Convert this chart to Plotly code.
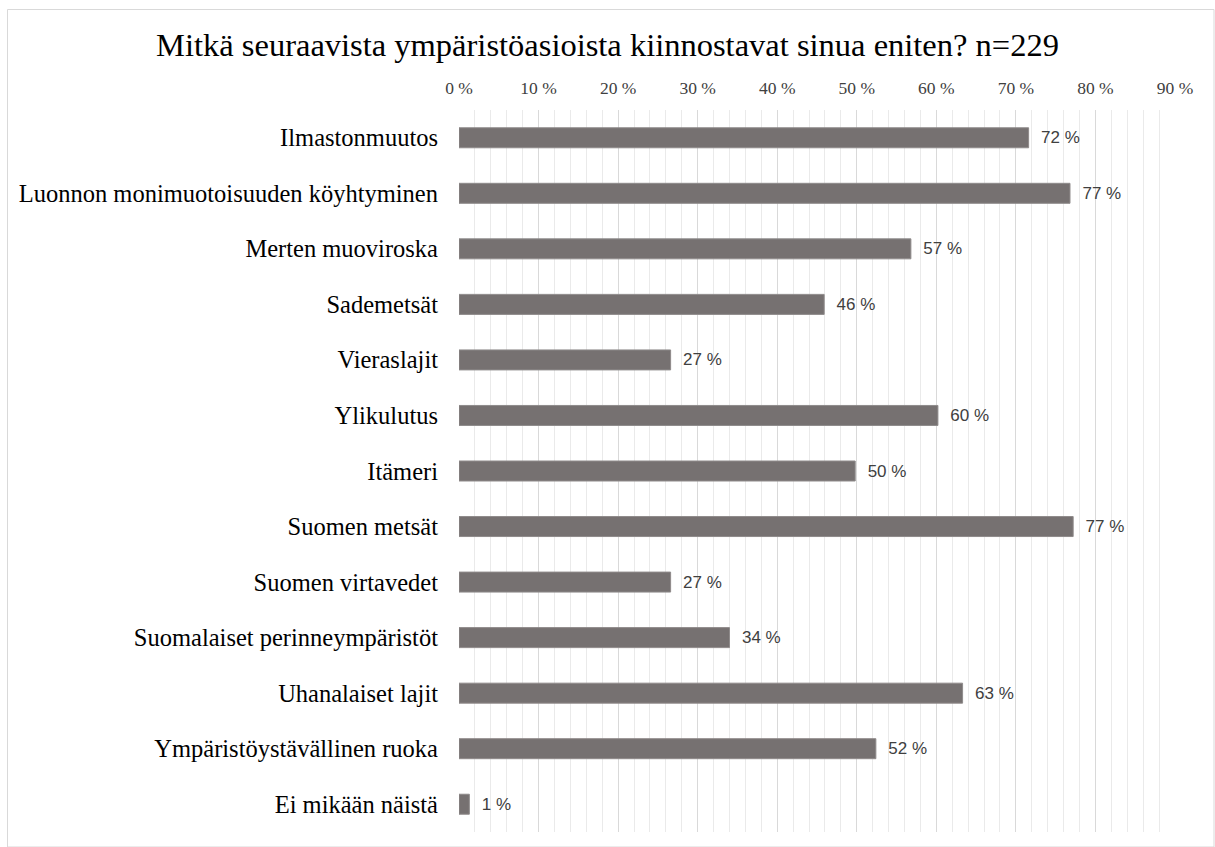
import plotly.graph_objects as go

categories = [
    "Ilmastonmuutos",
    "Luonnon monimuotoisuuden köyhtyminen",
    "Merten muoviroska",
    "Sademetsät",
    "Vieraslajit",
    "Ylikulutus",
    "Itämeri",
    "Suomen metsät",
    "Suomen virtavedet",
    "Suomalaiset perinneympäristöt",
    "Uhanalaiset lajit",
    "Ympäristöystävällinen ruoka",
    "Ei mikään näistä",
]
values = [71.6, 76.8, 56.8, 45.9, 26.6, 60.2, 49.8, 77.2, 26.6, 34.0, 63.3, 52.4, 1.3]
labels = ["72 %", "77 %", "57 %", "46 %", "27 %", "60 %", "50 %", "77 %", "27 %", "34 %", "63 %", "52 %", "1 %"]
tick_vals = [0, 10, 20, 30, 40, 50, 60, 70, 80, 90]
tick_text = ["0 %", "10 %", "20 %", "30 %", "40 %", "50 %", "60 %", "70 %", "80 %", "90 %"]
title = "Mitkä seuraavista ympäristöasioista kiinnostavat sinua eniten? n=229"

fig = go.Figure(go.Bar(
    x=values, y=categories, orientation="h",
    marker=dict(color="#767171", line=dict(color="#8f8b8b", width=1)),
    text=labels, texttemplate="\u00a0\u00a0%{text}", textposition="outside", cliponaxis=False,
    textfont=dict(family="Liberation Sans", size=17, color="#404040"),
    hoverinfo="skip",
))

W, H = 1215, 847
L, R, T, B = 459, 40, 110, 15
pw, ph = W - L - R, H - T - B

def px_x(p):
    return (p - L) / pw

def px_y(p):
    return 1 - (p - T) / ph

fig.add_shape(type="rect", xref="paper", yref="paper",
              x0=px_x(7.5), x1=px_x(1214), y0=px_y(9.5), y1=px_y(847),
              line=dict(color="#d9d9d9", width=1), layer="below")

fig.update_layout(
    width=W, height=H,
    margin=dict(l=L, r=R, t=T, b=B),
    paper_bgcolor="white", plot_bgcolor="white",
    showlegend=False,
    bargap=0.64,
    title=dict(text=title, x=0.5, xref="container", xanchor="center", y=1 - 45 / H, yanchor="middle",
               font=dict(family="Liberation Serif", size=32.5, color="#000000")),
    xaxis=dict(
        side="top", range=[0, 90], tickvals=tick_vals, ticktext=tick_text,
        showgrid=True, gridcolor="#d9d9d9", gridwidth=1,
        minor=dict(dtick=2, showgrid=True, gridcolor="#eaeaea", gridwidth=1),
        zeroline=False, showline=False, ticks="",
        tickfont=dict(family="Liberation Serif", size=17.5, color="#404040"),
        ticklabelstandoff=12,
    ),
    yaxis=dict(
        autorange="reversed", showgrid=False, zeroline=False, showline=False,
        ticks="", ticklabelstandoff=20,
        tickfont=dict(family="Liberation Serif", size=24.5, color="#000000"),
    ),
)

fig.write_html("out.html", config={"displayModeBar": False},
               post_script="document.body.style.margin='0';document.body.style.padding='0';")
